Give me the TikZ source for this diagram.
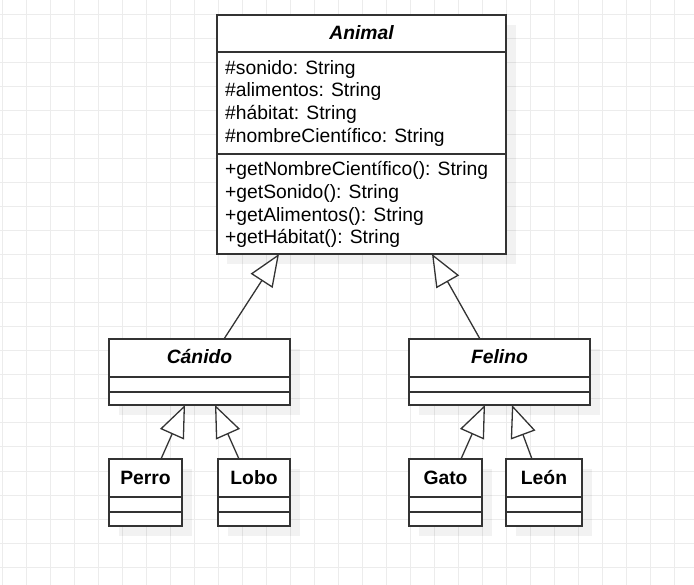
\documentclass[tikz,border=0pt]{standalone}
\usepackage{fontspec}
\setmainfont{Liberation Sans}
\usetikzlibrary{arrows.meta,shadows}
\definecolor{gridc}{RGB}{236,236,236}
\definecolor{boxc}{RGB}{51,51,51}
\begin{document}
\begin{tikzpicture}[x=1pt,y=-1pt,
  cls/.style={draw=boxc, line width=1.5pt, fill=white, rectangle, inner sep=0pt, outer sep=0pt, anchor=north west,
    general shadow={shadow xshift=10pt, shadow yshift=-10pt, fill=black, opacity=0.05}},
  sepline/.style={draw=boxc, line width=1.5pt},
  inh/.style={draw=boxc, line width=1.3pt, -{Triangle[length=32pt,width=26pt,fill=white]}},
  ttl/.style={font=\fontsize{19.3}{22.7}\selectfont\bfseries\itshape, anchor=base, inner sep=0pt},
  ttlb/.style={font=\fontsize{19.3}{22.7}\selectfont\bfseries, anchor=base, inner sep=0pt},
  mem/.style={font=\fontsize{19.3}{22.7}\selectfont, anchor=base west, inner sep=0pt}]
\useasboundingbox (0,0) rectangle (694,585);
\fill[white] (0,0) rectangle (694,585);
% grid
\foreach \k in {0,...,28} {\draw[gridc, line width=1pt] ({2.7+24*\k},0) -- ({2.7+24*\k},585);}
\foreach \k in {0,...,23} {\draw[gridc, line width=1pt] (0,{15+24*\k}) -- (694,{15+24*\k});}
% boxes
\node[cls, minimum width=289pt, minimum height=239pt] (animal) at (217,15) {};
\node[cls, minimum width=181pt, minimum height=66pt] (canido) at (109,339) {};
\node[cls, minimum width=181pt, minimum height=66pt] (felino) at (409,339) {};
\node[cls, minimum width=73pt, minimum height=67pt] (perro) at (109,459) {};
\node[cls, minimum width=72pt, minimum height=67pt] (lobo) at (218,459) {};
\node[cls, minimum width=73pt, minimum height=67pt] (gato) at (409,459) {};
\node[cls, minimum width=76pt, minimum height=67pt] (leon) at (506,459) {};
% separators
\draw[sepline] (animal.west |- 0,52) -- (animal.east |- 0,52);
\draw[sepline] (animal.west |- 0,154) -- (animal.east |- 0,154);
\foreach \n in {canido,felino} {
  \draw[sepline] (\n.west |- 0,377) -- (\n.east |- 0,377);
  \draw[sepline] (\n.west |- 0,392) -- (\n.east |- 0,392);
}
\foreach \n in {perro,lobo,gato,leon} {
  \draw[sepline] (\n.west |- 0,497) -- (\n.east |- 0,497);
  \draw[sepline] (\n.west |- 0,512) -- (\n.east |- 0,512);
}
% titles
\node[ttl] (tAnimal) at (361.5,39.5) {Animal};
\node[ttl] (tCanido) at (199.5,363.3) {Cánido};
\node[ttl] (tFelino) at (499.5,363.3) {Felino};
\node[ttlb] (tPerro) at (145.5,484) {Perro};
\node[ttlb] (tLobo) at (254,484) {Lobo};
\node[ttlb] (tGato) at (445.5,484) {Gato};
\node[ttlb] (tLeon) at (544,484) {León};
% members
\node[mem] (a1) at (225,74.3) {\#sonido: String};
\node[mem] (a2) at (225,97) {\#alimentos: String};
\node[mem] (a3) at (225,119.7) {\#hábitat: String};
\node[mem] (a4) at (225,142.4) {\#nombreCientífico: String};
\node[mem] (m1) at (225,175.7) {+getNombreCientífico(): String};
\node[mem] (m2) at (225,198.4) {+getSonido(): String};
\node[mem] (m3) at (225,221.1) {+getAlimentos(): String};
\node[mem] (m4) at (225,243.8) {+getHábitat(): String};
% inheritance
\draw[inh] ([xshift=115pt]canido.north west) -- ([xshift=62pt]animal.south west);
\draw[inh] ([xshift=71pt]felino.north west) -- ([xshift=215pt]animal.south west);
\draw[inh] ([xshift=52pt]perro.north west) -- ([xshift=76pt]canido.south west);
\draw[inh] ([xshift=21pt]lobo.north west) -- ([xshift=106pt]canido.south west);
\draw[inh] ([xshift=52pt]gato.north west) -- ([xshift=76pt]felino.south west);
\draw[inh] ([xshift=26pt]leon.north west) -- ([xshift=103pt]felino.south west);
\end{tikzpicture}
\end{document}
